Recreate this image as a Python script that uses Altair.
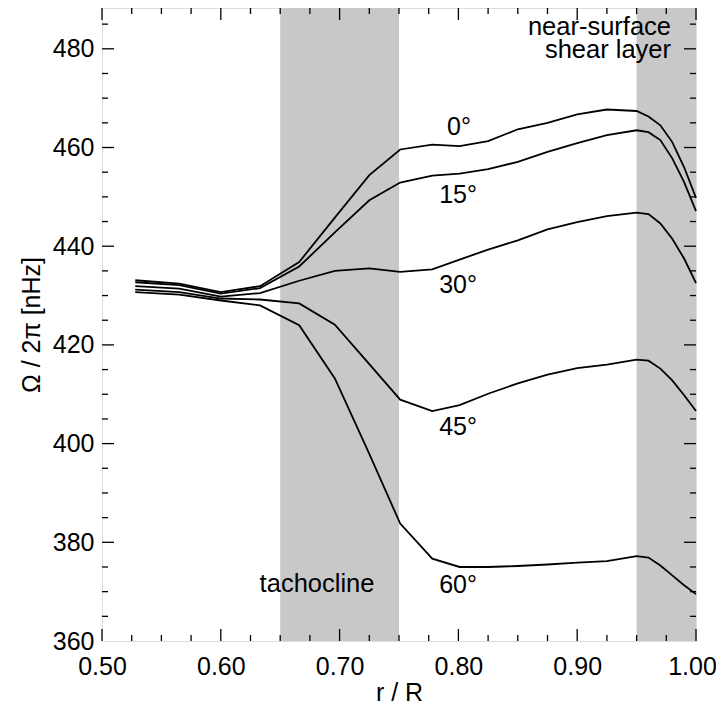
import altair as alt
import pandas as pd

# ---- data ----
r = [0.528, 0.565, 0.600, 0.633, 0.666, 0.696, 0.725, 0.751, 0.778, 0.801, 0.825,
     0.850, 0.875, 0.900, 0.925, 0.950, 0.960, 0.970, 0.980, 0.990, 1.000]
omega_0 = [433.1, 432.4, 430.7, 431.9, 436.8, 445.8, 454.4, 459.6, 460.6, 460.3, 461.3,
           463.7, 465.0, 466.7, 467.7, 467.4, 466.3, 464.5, 461.1, 456.0, 449.8]
omega_15 = [432.7, 432.1, 430.4, 431.5, 435.9, 442.8, 449.3, 452.9, 454.3, 454.7, 455.6,
            457.1, 459.1, 460.9, 462.5, 463.5, 463.1, 461.5, 457.8, 453.0, 447.1]
omega_30 = [431.9, 431.4, 429.8, 430.5, 433.0, 435.0, 435.5, 434.8, 435.3, 437.3, 439.3,
            441.2, 443.4, 444.9, 446.1, 446.8, 446.5, 444.6, 441.5, 437.5, 432.5]
omega_45 = [431.2, 430.7, 429.4, 429.2, 428.4, 424.1, 416.1, 408.9, 406.6, 407.8, 410.1,
            412.2, 414.0, 415.3, 416.0, 417.0, 416.8, 415.2, 412.8, 409.8, 406.6]
omega_60 = [430.7, 430.2, 429.0, 428.0, 424.0, 413.2, 397.9, 383.8, 376.7, 375.0, 375.0,
            375.2, 375.5, 375.9, 376.2, 377.2, 376.9, 375.3, 373.3, 371.3, 369.5]
latitudes = ["0°", "15°", "30°", "45°", "60°"]

band_start = [0.65, 0.95]
band_end = [0.75, 1.00]

label_text = ["0°", "15°", "30°", "45°", "60°"]
label_x = [0.7905, 0.7838, 0.7838, 0.7838, 0.7838]
label_y = [462.5, 448.7, 430.6, 401.7, 369.7]

note_text = ["near-surface\nshear layer"]
note_x = [0.979]
note_y = [482.7]

tach_text = ["tachocline"]
tach_x = [0.681]
tach_y = [369.9]

x_major = [0.5, 0.6, 0.7, 0.8, 0.9, 1.0]
x_minor = [0.525, 0.55, 0.575, 0.625, 0.65, 0.675, 0.725, 0.75, 0.775,
           0.825, 0.85, 0.875, 0.925, 0.95, 0.975]
y_major = [380, 400, 420, 440, 460, 480]
y_minor = [365, 370, 375, 385, 390, 395, 405, 410, 415, 425, 430, 435,
           445, 450, 455, 465, 470, 475, 485]

X_DOMAIN = [0.5, 1.0]
Y_DOMAIN = [360, 488.27]
W, H = 594, 633
FONT = "Liberation Sans"
FS = 25
FS_NOTE = 25.5

rows = []
for lat, series in zip(latitudes, [omega_0, omega_15, omega_30, omega_45, omega_60]):
    for rv, ov in zip(r, series):
        rows.append({"r": rv, "omega": ov, "lat": lat})
curves = pd.DataFrame(rows)

xs = alt.Scale(domain=X_DOMAIN, nice=False, zero=False)
ys = alt.Scale(domain=Y_DOMAIN, nice=False, zero=False)

bands = alt.Chart(pd.DataFrame({"a": band_start, "b": band_end})).mark_rect(
    color="#c8c8c8"
).encode(
    x=alt.X("a:Q", scale=xs, axis=alt.Axis(
        values=x_major, format=".2f", title="r / R", grid=False, ticks=False, tickSize=0,
        domain=False, labelFontSize=FS, labelFont=FONT, labelPadding=13, labelFlush=False,
        labelOverlap=False,
        labelOffset={"condition": {"test": "datum.value >= 0.999", "value": -4}, "value": 0},
        titleFont=FONT, titleFontSize=FS, titleFontWeight="normal", titlePadding=1,
        labelColor="black", titleColor="black")),
    x2="b:Q",
    y=alt.value(0),
    y2=alt.value(H),
)

lines = alt.Chart(curves).mark_line(color="black", strokeWidth=1.8).encode(
    x=alt.X("r:Q", scale=xs),
    y=alt.Y("omega:Q", scale=ys, axis=alt.Axis(
        values=[360] + y_major, title="Ω / 2π [nHz]", grid=False, ticks=False, tickSize=0,
        domain=False, labelFontSize=FS, labelFont=FONT, labelPadding=8, labelFlush=False,
        labelOverlap=False,
        titleFont=FONT, titleFontSize=FS, titleFontWeight="normal", titlePadding=8,
        labelColor="black", titleColor="black")),
    detail="lat:N",
)

labels = alt.Chart(pd.DataFrame({"t": label_text, "x": label_x, "y": label_y})).mark_text(
    align="left", baseline="alphabetic", font=FONT, fontSize=FS, color="black"
).encode(x=alt.X("x:Q", scale=xs), y=alt.Y("y:Q", scale=ys), text="t:N")

notes = alt.Chart(pd.DataFrame({"t": note_text, "x": note_x, "y": note_y})).mark_text(
    align="right", baseline="alphabetic", font=FONT, fontSize=FS_NOTE, color="black",
    lineBreak="\n", lineHeight=23
).encode(x=alt.X("x:Q", scale=xs), y=alt.Y("y:Q", scale=ys), text="t:N")

tach = alt.Chart(pd.DataFrame({"t": tach_text, "x": tach_x, "y": tach_y})).mark_text(
    align="center", baseline="alphabetic", font=FONT, fontSize=FS_NOTE, color="black"
).encode(x=alt.X("x:Q", scale=xs), y=alt.Y("y:Q", scale=ys), text="t:N")


def xticks(vals, length):
    d = pd.DataFrame({"t": vals})
    bottom = alt.Chart(d).mark_rule(color="black", strokeWidth=1.3).encode(
        x=alt.X("t:Q", scale=xs), y=alt.value(H), y2=alt.value(H - length))
    top = alt.Chart(d).mark_rule(color="black", strokeWidth=1.3).encode(
        x=alt.X("t:Q", scale=xs), y=alt.value(0), y2=alt.value(length))
    return [bottom, top]


def yticks(vals, length):
    d = pd.DataFrame({"t": vals})
    left = alt.Chart(d).mark_rule(color="black", strokeWidth=1.3).encode(
        y=alt.Y("t:Q", scale=ys), x=alt.value(0), x2=alt.value(length))
    right = alt.Chart(d).mark_rule(color="black", strokeWidth=1.3).encode(
        y=alt.Y("t:Q", scale=ys), x=alt.value(W), x2=alt.value(W - length))
    return [left, right]


ticks = xticks(x_major, 12) + xticks(x_minor, 6) + yticks(y_major, 12) + yticks(y_minor, 6)

chart = alt.layer(bands, lines, labels, notes, tach, *ticks).properties(
    width=W, height=H,
    autosize=alt.AutoSizeParams(type="none"),
    padding={"left": 94, "top": 0, "right": 20, "bottom": 64},
).configure_view(stroke="black", strokeWidth=1.5).configure(background="white")

chart.save("out.html", embed_options={"renderer": "svg", "actions": False})
